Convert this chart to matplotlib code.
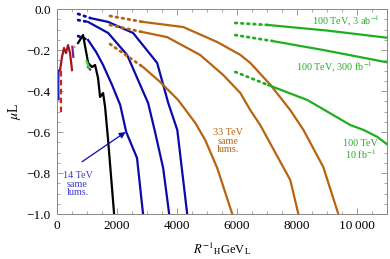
import numpy as np
import matplotlib.pyplot as plt
from matplotlib.ticker import MultipleLocator, FuncFormatter

plt.rcParams['font.family'] = ['Liberation Serif', 'DejaVu Serif']
plt.rcParams['mathtext.fontset'] = 'stix'

# 14 TeV (blue): dotted extrapolation + solid
b1_dot_x = [720, 1120]
b1_dot_y = [-0.024, -0.044]
b1_x = [1120, 1720, 2550, 3350, 3720, 4020, 4350]
b1_y = [-0.044, -0.063, -0.117, -0.263, -0.459, -0.59, -1.0]

b2_dot_x = [720, 1050]
b2_dot_y = [-0.054, -0.063]
b2_x = [1050, 1720, 2350, 3050, 3280, 3550, 3750]
b2_y = [-0.063, -0.117, -0.224, -0.459, -0.6, -0.776, -1.0]

b3_dot_x = [720, 1050]
b3_dot_y = [-0.132, -0.151]
b3_x = [1050, 1320, 1550, 1850, 2120, 2320, 2680, 2880]
b3_y = [-0.151, -0.21, -0.273, -0.371, -0.468, -0.6, -0.727, -1.0]

# 33 TeV (orange)
o1_dot_x = [1780, 2880]
o1_dot_y = [-0.034, -0.063]
o1_x = [2880, 4220, 5350, 6120, 6450, 7120, 7780, 8220, 8880, 9380]
o1_y = [-0.063, -0.088, -0.161, -0.224, -0.263, -0.37, -0.493, -0.59, -0.771, -1.0]

o2_dot_x = [1780, 2850]
o2_dot_y = [-0.078, -0.112]
o2_x = [2850, 3680, 4780, 5550, 6120, 6450, 6780, 7780, 8050]
o2_y = [-0.112, -0.137, -0.224, -0.322, -0.41, -0.493, -0.566, -0.834, -1.0]

o3_dot_x = [1780, 2880]
o3_dot_y = [-0.171, -0.283]
o3_x = [2880, 3450, 4050, 4620, 4950, 5350, 5850]
o3_y = [-0.283, -0.356, -0.444, -0.556, -0.639, -0.776, -1.0]

# 100 TeV (green)
g1_dot_x = [5950, 7050]
g1_dot_y = [-0.068, -0.078]
g1_x = [7050, 9000, 11000]
g1_y = [-0.078, -0.105, -0.14]

g2_dot_x = [5950, 7180]
g2_dot_y = [-0.127, -0.156]
g2_x = [7180, 8880, 11000]
g2_y = [-0.156, -0.2, -0.26]

g3_dot_x = [5950, 7050]
g3_dot_y = [-0.307, -0.371]
g3_x = [7050, 8350, 9780, 10220, 10680, 11000]
g3_y = [-0.371, -0.444, -0.566, -0.59, -0.624, -0.66]

# existing limits (low R^-1)
blk_x = [717, 883, 1017, 1050, 1183, 1283, 1383, 1450, 1550, 1617, 1717, 1917]
blk_y = [-0.166, -0.127, -0.234, -0.263, -0.283, -0.273, -0.337, -0.429, -0.41, -0.478, -0.639, -1.0]
red_x = [117, 183, 250, 317, 383, 450, 517]
red_y = [-0.298, -0.234, -0.19, -0.215, -0.176, -0.215, -0.298]
pur1_x = [527, 560]
pur1_y = [-0.184, -0.233]
pur2_x = [1050, 1117]
pur2_y = [-0.283, -0.295]
tan_x = [583, 717]
tan_y = [-0.185, -0.185]
grn_x = [1000, 1080]
grn_y = [-0.255, -0.285]
bv_x = [70, 60, 60, 70]
bv_y = [-0.30, -0.35, -0.40, -0.44]
rv_x = [135, 135]
rv_y = [-0.30, -0.51]

BLUE = '#0a0aa8'
ORANGE = '#b8640f'
GREEN = '#1fae1f'

fig = plt.figure(figsize=(3.9, 2.59), dpi=100)
ax = fig.add_axes([0.1449, 0.1737, 0.8474, 0.7915])

lw = 1.6
dot = (0, (0.6, 1.6))
for dx, dy, sx, sy, c in [
    (b1_dot_x, b1_dot_y, b1_x, b1_y, BLUE),
    (b2_dot_x, b2_dot_y, b2_x, b2_y, BLUE),
    (b3_dot_x, b3_dot_y, b3_x, b3_y, BLUE),
    (o1_dot_x, o1_dot_y, o1_x, o1_y, ORANGE),
    (o2_dot_x, o2_dot_y, o2_x, o2_y, ORANGE),
    (o3_dot_x, o3_dot_y, o3_x, o3_y, ORANGE),
    (g1_dot_x, g1_dot_y, g1_x, g1_y, GREEN),
    (g2_dot_x, g2_dot_y, g2_x, g2_y, GREEN),
    (g3_dot_x, g3_dot_y, g3_x, g3_y, GREEN),
]:
    ax.plot(dx, dy, color=c, lw=2.0, ls=dot, dash_capstyle='round')
    ax.plot(sx, sy, color=c, lw=lw)

ax.plot(blk_x, blk_y, color='black', lw=lw)
ax.plot(red_x, red_y, color='#a8141e', lw=lw)
ax.plot(pur1_x, pur1_y, color='#7a1f8c', lw=lw)
ax.plot(pur2_x, pur2_y, color='#7a1f8c', lw=lw)
ax.plot(tan_x, tan_y, color='#b89468', lw=lw, ls=dot)
ax.plot(grn_x, grn_y, color='#33dd33', lw=lw)
ax.plot(bv_x, bv_y, color='#1030c0', lw=lw)
ax.plot(rv_x, rv_y, color='#d82020', lw=lw, ls=(0, (2.5, 1.5)))

ax.set_xlim(0, 11000)
ax.set_ylim(-1.0, 0.0)

# labels
fs = 7.3
ax.text(700, -0.854, '14 TeV\nsame\nlums.', color='#3a3ad0', fontsize=fs,
        ha='center', va='center', linespacing=0.95)
ax.annotate('', xy=(2300, -0.6), xytext=(850, -0.745),
            arrowprops=dict(arrowstyle='-|>', color=BLUE, lw=0.9,
                            mutation_scale=9, shrinkA=0, shrinkB=0))
ax.text(5700, -0.644, '33 TeV\nsame\nlums.', color=ORANGE, fontsize=fs,
        ha='center', va='center', linespacing=0.95)
ax.text(9620, -0.06, '100 TeV, 3 ab$^{-1}$', color=GREEN, fontsize=fs,
        ha='center', va='center')
ax.text(9250, -0.283, '100 TeV, 300 fb$^{-1}$', color=GREEN, fontsize=fs,
        ha='center', va='center')
ax.text(10120, -0.688, '100 TeV\n10 fb$^{-1}$', color=GREEN, fontsize=fs,
        ha='center', va='center', linespacing=1.0)

ax.set_xlabel(r'$R^{-1}$$_{\rm H}$GeV$_{\rm L}$', fontsize=9, labelpad=6)
ax.set_ylabel(r'$\mu$L', fontsize=10, labelpad=3)

ax.xaxis.set_major_locator(MultipleLocator(2000))
ax.xaxis.set_minor_locator(MultipleLocator(500))
ax.yaxis.set_major_locator(MultipleLocator(0.2))
ax.yaxis.set_minor_locator(MultipleLocator(0.05))

def xfmt(v, pos):
    s = f'{int(round(v))}'
    if v >= 10000:
        s = s[:-3] + '\u2009' + s[-3:]
    return s

def yfmt(v, pos):
    return f'{v:.1f}'.replace('-', '\u2212')

ax.xaxis.set_major_formatter(FuncFormatter(xfmt))
ax.yaxis.set_major_formatter(FuncFormatter(yfmt))

ax.tick_params(which='both', direction='in', top=True, right=True,
               color='#888888', labelsize=9.5, pad=4)
ax.tick_params(which='major', length=4, width=0.6)
ax.tick_params(which='minor', length=2.2, width=0.5)
for s in ax.spines.values():
    s.set_color('#888888')
    s.set_linewidth(0.7)

fig.savefig('out.png', dpi=100)
